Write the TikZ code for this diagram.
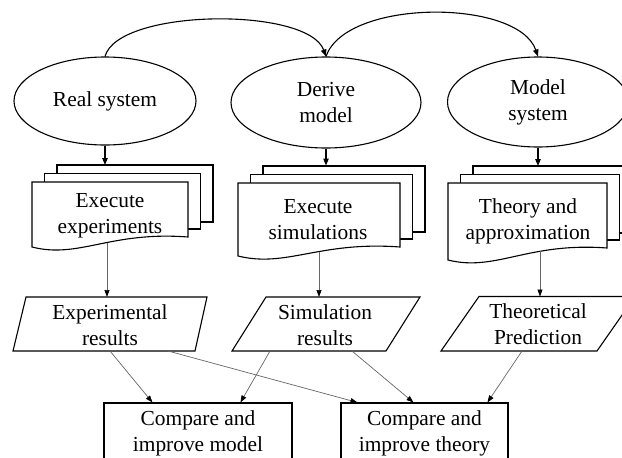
\documentclass[tikz,border=0pt]{standalone}
\usepackage{fontspec}
\setmainfont{Liberation Serif}
\usetikzlibrary{arrows.meta,shapes.geometric,calc}

\tikzset{
  lbl/.style={font=\fontsize{21.4}{26}\selectfont, align=center, inner sep=0pt},
  oval/.style={ellipse, draw, line width=1.1pt, lbl},
  shape line/.style={draw, line width=1.1pt, fill=white, line join=miter},
  main arrow/.style={line width=1.1pt, -{Triangle[length=7pt,width=5.5pt]}},
  thin arrow/.style={line width=0.7pt, draw=black!60, -{Triangle[length=7pt,width=5pt,color=black]}},
  box/.style={rectangle, draw, line width=1.1pt, lbl},
}

% Stack of three documents: #1,#2 top left corner of the front sheet,
% #3 width, #4 and #5 the bottom of the front sheet at its left and right side
\newcommand{\docstack}[5]{%
  \path[shape line] (#1+25,#2-17) rectangle (#1+25+#3,#5-15);
  \path[shape line] (#1+12.5,#2-8.5) rectangle (#1+12.5+#3,#5-8);
  \path[shape line] (#1,#2) -- (#1+#3,#2) -- (#1+#3,#5)
    .. controls (#1+0.5*#3,#5-6) and (#1+0.3*#3,#4+12) .. (#1,#4) -- cycle;
}

\begin{document}
\begin{tikzpicture}[x=1pt,y=-1pt]
\useasboundingbox (0,0) rectangle (622,458);
\clip (0,0) rectangle (622,458);

% top row: systems
\node[oval, minimum width=182pt, minimum height=88pt] (real) at (105,101) {Real system};
\node[oval, minimum width=190pt, minimum height=91pt] (derive) at (326,102.5) {Derive\\model};
\node[oval, minimum width=181pt, minimum height=90pt] (modelsys) at (538,102) {Model\\system};

\draw[main arrow] (real.north) .. controls +(13,-48) and +(-18,-50) .. (derive.north);
\draw[main arrow] (derive.north) .. controls +(20,-58) and +(-20,-58) .. (modelsys.north);

% middle row: document stacks
\docstack{32}{182}{156}{247}{237}
\docstack{238}{183}{162}{256}{247}
\docstack{448}{183}{159}{260}{248}

\node[lbl] (execexp) at (110,215.5) {Execute\\experiments};
\node[lbl] (execsim) at (318,219.5) {Execute\\simulations};
\node[lbl] (theory) at (528,221.5) {Theory and\\approximation};

\coordinate (execexp-in) at (105,165);
\coordinate (execsim-in) at (326,165.5);
\coordinate (theory-in) at (538,166);
\draw[main arrow] (real.south) -- (execexp-in);
\draw[main arrow] (derive.south) -- (execsim-in);
\draw[main arrow] (modelsys.south) -- (theory-in);

% results row: parallelograms
\path[shape line] (26,297) -- (207,297) -- (195,351) -- (13,351) -- cycle;
\path[shape line] (266,297) -- (420,297) -- (386,351) -- (232,351) -- cycle;
\path[shape line] (479,296.5) -- (635,296.5) -- (597,351) -- (441,351) -- cycle;

\node[lbl] (expres) at (110,325) {Experimental\\results};
\node[lbl] (simres) at (325,325) {Simulation\\results};
\node[lbl] (theopred) at (538,324.5) {Theoretical\\Prediction};

\coordinate (execexp-out) at (107,242.5);
\coordinate (execsim-out) at (319,251.6);
\coordinate (theory-out) at (540,251.3);
\coordinate (expres-in) at (107,297);
\coordinate (simres-in) at (319,297);
\coordinate (theopred-in) at (540,296.5);
\draw[thin arrow] (execexp-out) -- (expres-in);
\draw[thin arrow] (execsim-out) -- (simres-in);
\draw[thin arrow] (theory-out) -- (theopred-in);

% bottom row: comparison boxes
\node[box, minimum width=188pt, minimum height=61pt] (cmpmodel) at (198,433.5) {Compare and\\improve model};
\node[box, minimum width=167pt, minimum height=61pt] (cmptheory) at (424.5,433.5) {Compare and\\improve theory};

\coordinate (expres-a) at (110,351);
\coordinate (expres-b) at (168,351);
\coordinate (simres-a) at (270,351);
\coordinate (simres-b) at (352,351);
\coordinate (theopred-a) at (522,351);

\draw[thin arrow] (expres-a) -- ($(cmpmodel.north west)+(49,0)$);
\draw[thin arrow] (expres-b) -- ($(cmptheory.north west)+(17,0)$);
\draw[thin arrow] (simres-a) -- ($(cmpmodel.north west)+(137,0)$);
\draw[thin arrow] (simres-b) -- ($(cmptheory.north west)+(73,0)$);
\draw[thin arrow] (theopred-a) -- ($(cmptheory.north west)+(147,0)$);
\end{tikzpicture}
\end{document}
